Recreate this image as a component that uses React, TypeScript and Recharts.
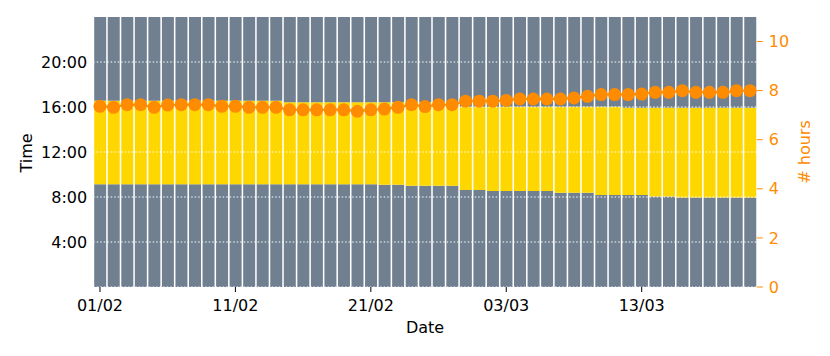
import { ComposedChart, Bar, Line, XAxis, YAxis, ReferenceLine, Label } from "recharts";

// one bar per day, 01/02 .. 21/03
const DATES = [
  "01/02", "02/02", "03/02", "04/02", "05/02", "06/02", "07/02", "08/02", "09/02", "10/02",
  "11/02", "12/02", "13/02", "14/02", "15/02", "16/02", "17/02", "18/02", "19/02", "20/02",
  "21/02", "22/02", "23/02", "24/02", "25/02", "26/02", "27/02", "28/02", "01/03", "02/03",
  "03/03", "04/03", "05/03", "06/03", "07/03", "08/03", "09/03", "10/03", "11/03", "12/03",
  "13/03", "14/03", "15/03", "16/03", "17/03", "18/03", "19/03", "20/03", "21/03",
];

// start of the yellow block, decimal hours
const SUNRISE = [
  9.13, 9.13, 9.13, 9.13, 9.13, 9.13, 9.13, 9.13, 9.13, 9.13,
  9.13, 9.13, 9.13, 9.13, 9.13, 9.13, 9.13, 9.13, 9.13, 9.13,
  9.13, 9.08, 9.08, 9.0, 9.0, 9.0, 9.0, 8.62, 8.62, 8.53,
  8.53, 8.53, 8.53, 8.53, 8.38, 8.38, 8.38, 8.18, 8.18, 8.18,
  8.18, 8.05, 8.05, 7.95, 7.95, 7.95, 7.95, 7.95, 7.95,
];

// end of the yellow block, decimal hours
const SUNSET = [
  16.56, 16.56, 16.56, 16.56, 16.56, 16.56, 16.56, 16.56, 16.56, 16.56,
  16.56, 16.56, 16.56, 16.56, 16.42, 16.42, 16.42, 16.42, 16.42, 16.42,
  16.42, 16.42, 16.42, 16.42, 16.42, 16.42, 16.42, 16.03, 16.03, 16.03,
  16.03, 16.03, 16.03, 16.03, 16.03, 16.03, 16.03, 16.03, 16.03, 15.94,
  15.94, 15.94, 15.94, 15.94, 15.94, 15.94, 15.94, 15.94, 15.94,
];

// orange dots, right axis
const HOURS = [
  7.36, 7.32, 7.43, 7.43, 7.32, 7.41, 7.43, 7.43, 7.43, 7.36,
  7.36, 7.32, 7.32, 7.32, 7.22, 7.22, 7.22, 7.22, 7.22, 7.16,
  7.22, 7.25, 7.32, 7.43, 7.35, 7.43, 7.43, 7.57, 7.57, 7.57,
  7.6, 7.66, 7.66, 7.66, 7.66, 7.7, 7.77, 7.84, 7.84, 7.84,
  7.86, 7.93, 7.93, 8.0, 7.93, 7.93, 7.93, 8.0, 8.0,
];

const DATE_TICKS = ["01/02", "11/02", "21/02", "03/03", "13/03"];
const TIME_TICKS = [4, 8, 12, 16, 20];
const GRID_TIMES = [0, 4, 8, 12, 16, 20];
const HOUR_TICKS = [0, 2, 4, 6, 8, 10];

const GRAY = "#708090";
const GOLD = "#FFD700";
const ORANGE = "#FF8C00";

const data = DATES.map((date, i) => ({
  date,
  before: SUNRISE[i],
  day: SUNSET[i] - SUNRISE[i],
  after: 24 - SUNSET[i],
  hours: HOURS[i],
}));

export default function App() {
  return (
    <div style={{ position: "absolute", left: 0, top: 0, fontFamily: "DejaVu Sans" }}>
      <ComposedChart
        width={830}
        height={356}
        data={data}
        margin={{ top: 17, right: 0, bottom: 0, left: 0 }}
        barCategoryGap={1}
      >
        <XAxis
          dataKey="date"
          ticks={DATE_TICKS}
          interval={0}
          height={69}
          axisLine={false}
          tickLine={{ stroke: "#000" }}
          tickSize={5}
          tickMargin={8}
          tick={{ fill: "#000", fontSize: 16 }}
        >
          <Label
            content={() => (
              <text x={425} y={333} textAnchor="middle" fontSize={16} fill="#000">
                Date
              </text>
            )}
          />
        </XAxis>
        <YAxis
          yAxisId="left"
          domain={[0, 24]}
          ticks={TIME_TICKS}
          tickFormatter={(v) => `${v}:00`}
          width={93.2}
          axisLine={false}
          tickLine={false}
          tickSize={6}
          tickMargin={0}
          tick={{ fill: "#000", fontSize: 16 }}
        >
          <Label
            content={() => (
              <text x={32} y={153} textAnchor="middle" fontSize={16} fill="#000" transform="rotate(-90, 32, 153)">
                Time
              </text>
            )}
          />
        </YAxis>
        <YAxis
          yAxisId="right"
          orientation="right"
          domain={[0, 11]}
          ticks={HOUR_TICKS}
          width={73.2}
          axisLine={false}
          tickLine={{ stroke: ORANGE }}
          tickSize={6}
          tickMargin={6}
          tick={{ fill: ORANGE, fontSize: 16 }}
        >
          <Label
            content={() => (
              <text x={810} y={152} textAnchor="middle" fontSize={16} fill={ORANGE} transform="rotate(-90, 810, 152)">
                # hours
              </text>
            )}
          />
        </YAxis>
        <Bar dataKey="before" stackId="a" yAxisId="left" fill={GRAY} isAnimationActive={false} />
        <Bar dataKey="day" stackId="a" yAxisId="left" fill={GOLD} isAnimationActive={false} />
        <Bar dataKey="after" stackId="a" yAxisId="left" fill={GRAY} isAnimationActive={false} />
        {GRID_TIMES.map((t) => (
          <ReferenceLine
            key={t}
            yAxisId="left"
            y={t}
            stroke="#fff"
            strokeWidth={1.2}
            strokeDasharray="1.5 2"
          />
        ))}
        <Line
          yAxisId="right"
          dataKey="hours"
          stroke={ORANGE}
          strokeWidth={2}
          dot={{ r: 6.5, fill: ORANGE, stroke: "none" }}
          isAnimationActive={false}
        />
      </ComposedChart>
    </div>
  );
}
